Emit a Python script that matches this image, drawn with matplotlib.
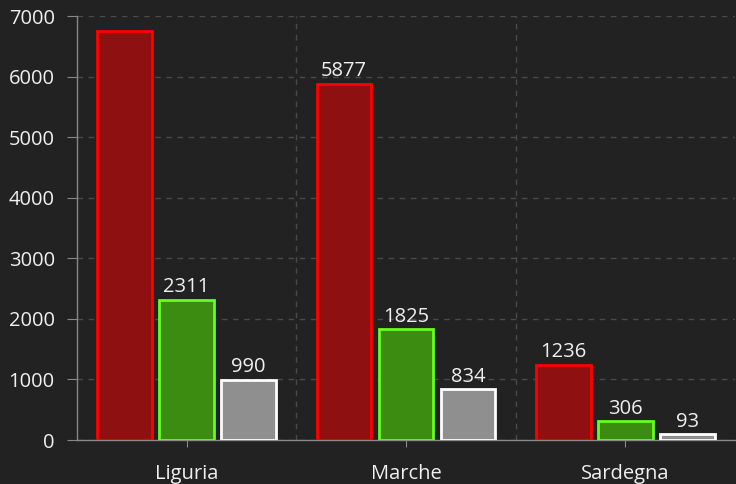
import matplotlib
matplotlib.use("Agg")
import matplotlib.pyplot as plt
import numpy as np

regions = ["Liguria", "Marche", "Sardegna"]
red_vals = [6750, 5877, 1236]
green_vals = [2311, 1825, 306]
gray_vals = [990, 834, 93]
# the tallest bar has no value label in the reference
show_label = [[False, True, True], [True, True, True], [True, True, True]]
y_ticks = [0, 1000, 2000, 3000, 4000, 5000, 6000, 7000]

plt.rcParams["font.family"] = ["Open Sans", "DejaVu Sans"]
bg = "#222222"
txt = "#f0f0f0"

fig = plt.figure(figsize=(7.36, 4.84), dpi=100, facecolor=bg)
ax = fig.add_axes([77 / 736, 44 / 484, 658 / 736, 424 / 484])
ax.set_facecolor(bg)

x = np.arange(len(regions))
w = 0.25
step = 0.283
series = [
    (red_vals, "#8e1010", "#ff0000"),
    (green_vals, "#3c8c12", "#66ff1a"),
    (gray_vals, "#8f8f8f", "#ffffff"),
]
for i, (vals, fc, ec) in enumerate(series):
    pos = x + (i - 1) * step
    bars = ax.bar(pos, vals, width=w, color=fc, edgecolor=ec, linewidth=2, zorder=3)
    for j, b in enumerate(bars):
        if show_label[i][j]:
            ax.annotate(str(vals[j]), (b.get_x() + b.get_width() / 2, b.get_height()),
                        xytext=(0, 2), textcoords="offset points", ha="center",
                        va="bottom", color=txt, fontsize=14.5, zorder=4)

ax.set_xlim(-0.5, 2.5)
ax.set_ylim(0, 7000)
ax.set_yticks(y_ticks)
ax.set_xticks(x)
ax.set_xticklabels(regions)
ax.set_xticks([0.5, 1.5], minor=True)

ax.grid(axis="y", color="#4a4a4a", linestyle=(0, (4, 4)), linewidth=1, zorder=0)
ax.grid(axis="x", which="minor", color="#4a4a4a", linestyle=(0, (4, 4)), linewidth=1, zorder=0)
ax.tick_params(axis="x", which="minor", length=0)
ax.tick_params(axis="y", colors="#888888", labelcolor=txt, labelsize=14.5, length=7, pad=9)
ax.tick_params(axis="x", which="major", colors="#888888", labelcolor=txt, labelsize=14.5, length=5, pad=12)

for s in ["top", "right"]:
    ax.spines[s].set_visible(False)
for s in ["left", "bottom"]:
    ax.spines[s].set_color("#888888")
    ax.spines[s].set_linewidth(1)

fig.savefig("out.png", dpi=100, facecolor=bg)
